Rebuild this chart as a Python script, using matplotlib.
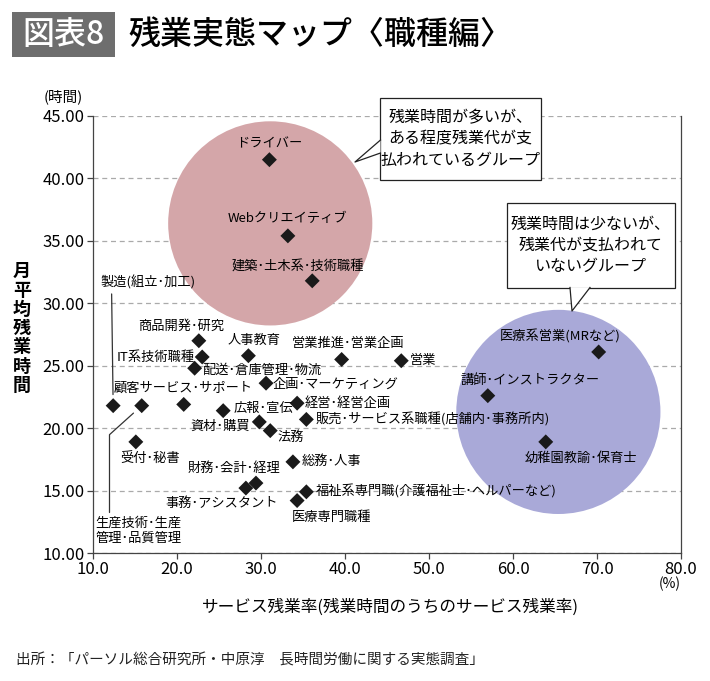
import matplotlib
matplotlib.use("Agg")
import matplotlib.pyplot as plt
from matplotlib.patches import Rectangle, Polygon
from matplotlib.lines import Line2D

plt.rcParams['font.family'] = ['Noto Sans CJK JP', 'DejaVu Sans']

# 職種ごとのデータ（サービス残業率 %, 月平均残業時間）
jobs = ["ドライバー", "Webクリエイティブ", "建築･土木系･技術職種",
        "製造(組立･加工)", "生産技術･生産\n管理･品質管理", "顧客サービス･サポート",
        "商品開発･研究", "IT系技術職種", "配送･倉庫管理･物流", "人事教育",
        "企画･マーケティング", "広報･宣伝", "資材･購買", "法務", "経営･経営企画",
        "販売･サービス系職種(店舗内･事務所内)", "受付･秘書", "総務･人事",
        "財務･会計･経理", "事務･アシスタント", "福祉系専門職(介護福祉士･ヘルパーなど)",
        "医療専門職種", "営業推進･営業企画", "営業", "医療系営業(MRなど)",
        "講師･インストラクター", "幼稚園教諭･保育士"]
rate = [31.0, 33.2, 36.1,
        12.4, 15.8, 20.8,
        22.6, 23.0, 22.1, 28.5,
        30.6, 25.5, 29.8, 31.1, 34.3,
        35.4, 15.1, 33.8,
        29.4, 28.2, 35.4,
        34.3, 39.6, 46.7, 70.2,
        57.0, 63.9]
hours = [41.5, 35.4, 31.8,
         21.8, 21.8, 21.9,
         27.0, 25.7, 24.8, 25.8,
         23.6, 21.4, 20.5, 19.8, 22.0,
         20.7, 18.9, 17.3,
         15.6, 15.2, 14.9,
         14.2, 25.5, 25.4, 26.1,
         22.6, 18.9]

# グループ（円）の中心
group_rate = [31.1, 65.4]
group_hours = [36.4, 21.3]
group_colors = ["#d4a6a9", "#a9a9d8"]

xticks = [10, 20, 30, 40, 50, 60, 70, 80]
yticks = [10, 15, 20, 25, 30, 35, 40, 45]

# ラベル位置（マーカーからのずれ, px）
label_pos = {
    "ドライバー": (0, 16, "center"),
    "Webクリエイティブ": (0, 17, "center"),
    "建築･土木系･技術職種": (-14, 14, "center"),
    "顧客サービス･サポート": (-1, 16, "center"),
    "商品開発･研究": (-18, 14, "center"),
    "IT系技術職種": (-7, 0, "right"),
    "配送･倉庫管理･物流": (8, -2, "left"),
    "人事教育": (6, 15, "center"),
    "企画･マーケティング": (7, -1, "left"),
    "広報･宣伝": (10, 2, "left"),
    "資材･購買": (-9, -4, "right"),
    "法務": (7, -7, "left"),
    "経営･経営企画": (8, 0, "left"),
    "販売･サービス系職種(店舗内･事務所内)": (9, 0, "left"),
    "受付･秘書": (14, -17, "center"),
    "総務･人事": (9, 0, "left"),
    "財務･会計･経理": (-22, 15, "center"),
    "事務･アシスタント": (-24, -15, "center"),
    "福祉系専門職(介護福祉士･ヘルパーなど)": (9, 0, "left"),
    "医療専門職種": (-5, -17, "left"),
    "営業推進･営業企画": (6, 16, "center"),
    "営業": (9, 0, "left"),
    "医療系営業(MRなど)": (-38, 16, "center"),
    "講師･インストラクター": (42, 15, "center"),
    "幼稚園教諭･保育士": (35, -17, "center"),
}

W, H = 710, 681
fig = plt.figure(figsize=(W / 100, H / 100), dpi=100)
ax = fig.add_axes([93 / W, 1 - 553 / H, 588 / W, 437 / H])


def px(x, y):
    return (x / W, 1 - y / H)


# 円（グループ）
ax.scatter(group_rate, group_hours, s=147 ** 2, c=group_colors, edgecolors='none', zorder=2)
# 各職種
ax.scatter(rate, hours, s=58, marker='D', c='#1a1a1a', edgecolors='none', zorder=4)

for name, x, y in zip(jobs, rate, hours):
    if name in label_pos:
        dx, dy, ha = label_pos[name]
        ax.annotate(name, (x, y), xytext=(dx, dy), textcoords='offset pixels',
                    ha=ha, va='center', fontsize=9.5, zorder=5)

# 引き出し線つきのラベル
ax.annotate(jobs[3], (rate[3], hours[3]), xytext=(-13, 123), textcoords='offset pixels',
            ha='left', va='center', fontsize=9.5, zorder=5,
            arrowprops=dict(arrowstyle='-', color='#333333', lw=0.9, relpos=(0.12, 0.0),
                            shrinkA=1, shrinkB=8))
ax.annotate(jobs[4], (rate[4], hours[4]), xytext=(-46, -125), textcoords='offset pixels',
            ha='left', va='center', fontsize=9.5, zorder=5, linespacing=1.2,
            arrowprops=dict(arrowstyle='-', color='#333333', lw=0.9, relpos=(0.16, 1.0),
                            connectionstyle='angle,angleA=90,angleB=42,rad=0',
                            shrinkA=1, shrinkB=8))

ax.set_xlim(10, 80)
ax.set_ylim(10, 45)
ax.set_xticks(xticks)
ax.set_xticklabels([f"{v:.1f}" for v in xticks])
ax.set_yticks(yticks)
ax.set_yticklabels([f"{v:.2f}" for v in yticks])
ax.tick_params(axis='both', direction='out', length=4, width=0.9, color='#444444',
               labelsize=12, pad=2)
ax.yaxis.grid(True, linestyle=(0, (4, 3)), color='#aaaaaa', lw=0.9, zorder=1)
ax.set_axisbelow(True)
ax.spines['top'].set_visible(False)
for s in ['left', 'bottom', 'right']:
    ax.spines[s].set_color('#444444')
    ax.spines[s].set_linewidth(0.9)

# 軸ラベル
fig.text(*px(63, 97), "(時間)", ha='center', va='center', fontsize=10.5)
fig.text(*px(22, 328), "\n".join("月平均残業時間"), ha='center', va='center',
         fontsize=13, fontweight='bold', linespacing=1.0)
fig.text(*px(670, 584), "(%)", ha='center', va='center', fontsize=10)
fig.text(*px(390, 607), "サービス残業率(残業時間のうちのサービス残業率)",
         ha='center', va='center', fontsize=12)

# タイトル
fig.patches.append(Rectangle(px(12, 57), 103 / W, 45 / H, transform=fig.transFigure,
                             facecolor='#6e6e6e', edgecolor='none'))
fig.text(*px(63, 35), "図表8", ha='center', va='center', fontsize=23, color='white',
         fontweight='medium')
fig.text(*px(128, 35), "残業実態マップ〈職種編〉", ha='left', va='center', fontsize=23,
         fontweight='medium')

# 出所
fig.text(*px(16, 660), "出所：「パーソル総合研究所・中原淳　長時間労働に関する実態調査」",
         ha='left', va='center', fontsize=10.5, color='#222222')


# 吹き出し
def callout(x0, y0, x1, y1, base1, base2, tip, text):
    fig.patches.append(Rectangle(px(x0, y1), (x1 - x0) / W, (y1 - y0) / H,
                                 transform=fig.transFigure, facecolor='white',
                                 edgecolor='#222222', lw=0.9, zorder=6))
    fig.patches.append(Polygon([px(*base1), px(*tip), px(*base2)], closed=True,
                               transform=fig.transFigure, facecolor='white',
                               edgecolor='none', zorder=7))
    fig.lines.append(Line2D(*zip(px(*base1), px(*tip), px(*base2)),
                            transform=fig.transFigure, color='#222222', lw=0.9, zorder=8))
    fig.text(*px((x0 + x1) / 2, (y0 + y1) / 2), text, ha='center', va='center',
             multialignment='center', fontsize=11.5, linespacing=1.3, zorder=9)


callout(380, 98, 541, 180, (380.5, 140), (380.5, 153), (355, 162),
        "残業時間が多いが、\nある程度残業代が支\n払われているグループ")
callout(507, 203, 675, 288, (570, 287.5), (590, 287.5), (572, 311),
        "残業時間は少ないが、\n残業代が支払われて\nいないグループ")

fig.savefig("out.png", dpi=100, facecolor='white')
